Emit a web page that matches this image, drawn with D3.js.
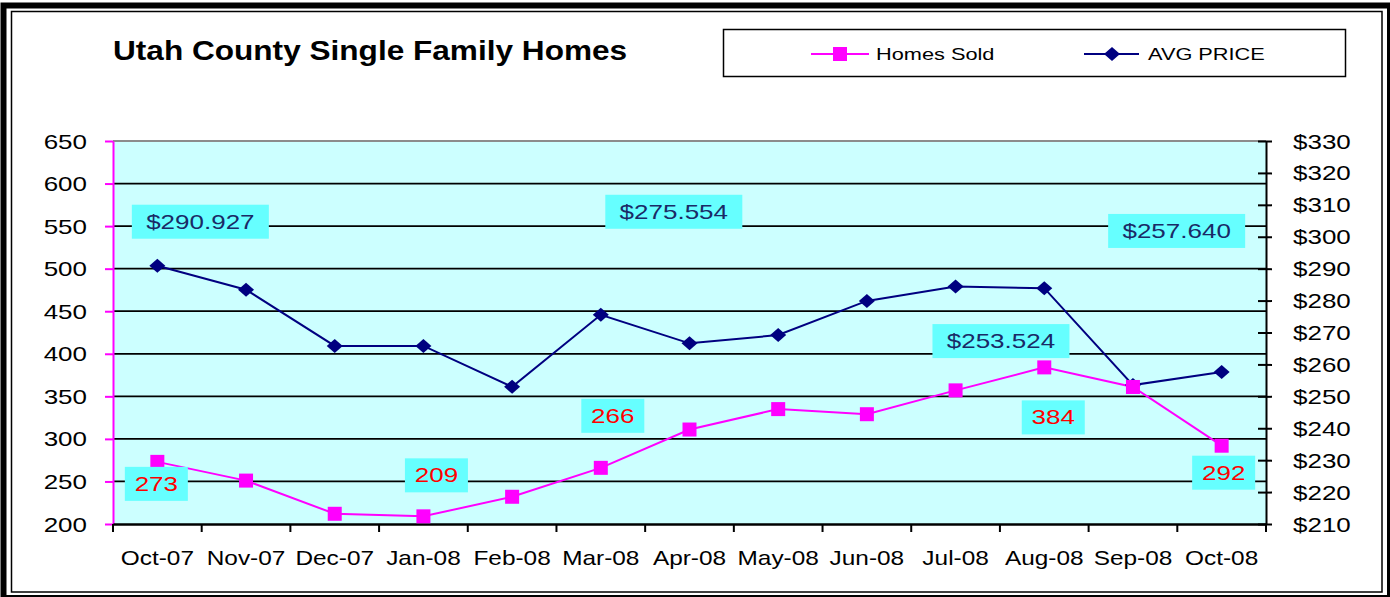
<!DOCTYPE html>
<html>
<head>
<meta charset="utf-8">
<script src="https://cdn.jsdelivr.net/npm/d3@7"></script>
<style>
  body { margin: 0; background: #fff; }
  svg { display: block; font-family: Arial, "Liberation Sans", sans-serif; }
</style>
</head>
<body>
<svg width="1390" height="597"></svg>
<script>
// data
const months = ["Oct-07", "Nov-07", "Dec-07", "Jan-08", "Feb-08", "Mar-08", "Apr-08",
  "May-08", "Jun-08", "Jul-08", "Aug-08", "Sep-08", "Oct-08"];
const homesSold = [273, 251, 212, 209, 232, 266, 311, 335, 329, 357, 384, 361, 292];
const avgPrice = [290.927, 283.4, 265.8, 265.8, 253.0, 275.554, 266.6, 269.2, 279.9, 284.4, 283.9, 253.524, 257.640];
const leftTicks = [200, 250, 300, 350, 400, 450, 500, 550, 600, 650];
const rightTicks = [210, 220, 230, 240, 250, 260, 270, 280, 290, 300, 310, 320, 330];

// labelled points: index into the series + label text
const priceLabels = [
  { i: 0, text: "$290.927", dx: 43, dy: -44 },
  { i: 5, text: "$275.554", dx: 73, dy: -103 },
  { i: 11, text: "$253.524", dx: -132, dy: -44 },
  { i: 12, text: "$257.640", dx: -45, dy: -141 }
];
const soldLabels = [
  { i: 0, text: "273", dx: -1, dy: 22 },
  { i: 3, text: "209", dx: 13, dy: -41 },
  { i: 5, text: "266", dx: 12, dy: -52 },
  { i: 10, text: "384", dx: 9, dy: 50 },
  { i: 12, text: "292", dx: 2, dy: 27 }
];

const SX = 1.3; // the picture is stretched sideways, so is its text
const plot = { left: 113, right: 1266, top: 141, bottom: 524 };

const svg = d3.select("svg");

// outer double frame
svg.append("rect").attr("x", 3.5).attr("y", 5.5).attr("width", 1386.5).attr("height", 592.5)
  .attr("fill", "none").attr("stroke", "#000").attr("stroke-width", 6);
svg.append("rect").attr("x", 11.5).attr("y", 11.5).attr("width", 1370.5).attr("height", 580.5)
  .attr("fill", "none").attr("stroke", "#000").attr("stroke-width", 1.5);

// scales
const x = d3.scaleBand().domain(months).range([plot.left, plot.right]);
const yL = d3.scaleLinear().domain([200, 650]).range([plot.bottom, plot.top]);
const yR = d3.scaleLinear().domain([210, 330]).range([plot.bottom, plot.top]);
const cx = d => x(d) + x.bandwidth() / 2;

// plot background
svg.append("rect")
  .attr("x", plot.left).attr("y", plot.top)
  .attr("width", plot.right - plot.left).attr("height", plot.bottom - plot.top)
  .attr("fill", "#CCFFFF");

// gridlines
svg.append("g").selectAll("line")
  .data(leftTicks.filter(t => t > 200 && t < 650))
  .join("line")
  .attr("x1", plot.left).attr("x2", plot.right)
  .attr("y1", d => yL(d)).attr("y2", d => yL(d))
  .attr("stroke", "#000").attr("stroke-width", 1.8);
svg.append("line")
  .attr("x1", plot.left).attr("x2", plot.right)
  .attr("y1", plot.top).attr("y2", plot.top)
  .attr("stroke", "#8c8c8c").attr("stroke-width", 2);

function stretchText(sel, dx, dy, anchor, sx = SX) {
  sel.attr("x", 0).attr("y", 0).attr("dy", null)
    .attr("text-anchor", anchor)
    .attr("transform", `translate(${dx},${dy}) scale(${sx},1)`)
    .attr("font-size", 20).attr("font-family", "Arial, 'Liberation Sans', sans-serif")
    .attr("fill", "#000");
}

// left axis (magenta)
const gL = svg.append("g").attr("transform", `translate(${plot.left},0)`)
  .call(d3.axisLeft(yL).tickValues(leftTicks).tickSize(8).tickSizeOuter(0));
gL.select(".domain").attr("stroke", "#FF00FF").attr("stroke-width", 2);
gL.selectAll(".tick line").attr("stroke", "#FF00FF").attr("stroke-width", 2);
gL.selectAll(".tick text").call(stretchText, -26, 7, "end");

// right axis
const gR = svg.append("g").attr("transform", `translate(${plot.right},0)`)
  .call(d3.axisRight(yR).tickValues(rightTicks).tickFormat(d => "$" + d).tickSize(6).tickSizeOuter(0));
gR.select(".domain").attr("stroke", "#000").attr("stroke-width", 2);
gR.selectAll(".tick line").attr("x1", -8).attr("stroke", "#000").attr("stroke-width", 2);
gR.selectAll(".tick text").call(stretchText, 27, 7, "start");

// bottom axis: ticks sit on the band edges
const gB = svg.append("g").attr("transform", `translate(0,${plot.bottom})`)
  .call(d3.axisBottom(x).tickSize(0).tickSizeOuter(0));
gB.select(".domain").attr("stroke", "#000").attr("stroke-width", 2.5);
gB.selectAll(".tick text").call(stretchText, 0, 41, "middle", 1.22);
gB.append("g").selectAll("line")
  .data(months.concat(["end"]))
  .join("line")
  .attr("x1", (d, i) => i < months.length ? x(d) : plot.right)
  .attr("x2", (d, i) => i < months.length ? x(d) : plot.right)
  .attr("y1", 0).attr("y2", 8)
  .attr("stroke", "#000").attr("stroke-width", 2);

// lines
const priceLine = d3.line().x((d, i) => cx(months[i])).y(d => yR(d));
const soldLine = d3.line().x((d, i) => cx(months[i])).y(d => yL(d));

svg.append("path").datum(avgPrice).attr("d", priceLine)
  .attr("fill", "none").attr("stroke", "#000080").attr("stroke-width", 2);
svg.append("path").datum(homesSold).attr("d", soldLine)
  .attr("fill", "none").attr("stroke", "#FF00FF").attr("stroke-width", 2);

const diamond = "M0,-7L8,0L0,7L-8,0Z";

svg.append("g").selectAll("path")
  .data(avgPrice)
  .join("path")
  .attr("d", diamond)
  .attr("transform", (d, i) => `translate(${cx(months[i])},${yR(d)})`)
  .attr("fill", "#000080");

svg.append("g").selectAll("rect")
  .data(homesSold)
  .join("rect")
  .attr("x", (d, i) => cx(months[i]) - 7)
  .attr("y", d => yL(d) - 7)
  .attr("width", 14).attr("height", 14)
  .attr("fill", "#FF00FF");

// data labels
function drawLabels(list, series, scale, w, color) {
  const g = svg.append("g").selectAll("g")
    .data(list)
    .join("g")
    .attr("transform", d => `translate(${cx(months[d.i]) + d.dx},${scale(series[d.i]) + d.dy})`);
  g.append("rect")
    .attr("x", -w / 2).attr("y", -17)
    .attr("width", w).attr("height", 34)
    .attr("fill", "#66FFFF");
  g.append("text")
    .text(d => d.text)
    .call(stretchText, 0, 7, "middle");
  g.selectAll("text").attr("fill", color);
}
drawLabels(priceLabels, avgPrice, yR, 137, "#1A2A66");
drawLabels(soldLabels, homesSold, yL, 63, "#FF0000");

// title
svg.append("text")
  .attr("transform", `translate(113,60) scale(1.17,1)`)
  .attr("font-size", 27).attr("font-weight", "bold")
  .text("Utah County Single Family Homes");

// legend
const lg = svg.append("g");
lg.append("rect").attr("x", 723.5).attr("y", 29.5).attr("width", 622).attr("height", 47)
  .attr("fill", "#fff").attr("stroke", "#000").attr("stroke-width", 1.5);
lg.append("line").attr("x1", 811).attr("x2", 869).attr("y1", 54).attr("y2", 54)
  .attr("stroke", "#FF00FF").attr("stroke-width", 2);
lg.append("rect").attr("x", 833).attr("y", 47).attr("width", 14).attr("height", 14).attr("fill", "#FF00FF");
lg.append("text").attr("transform", `translate(876,60) scale(1.28,1)`)
  .attr("font-size", 17).text("Homes Sold");
lg.append("line").attr("x1", 1084).attr("x2", 1139).attr("y1", 54).attr("y2", 54)
  .attr("stroke", "#000080").attr("stroke-width", 2);
lg.append("path").attr("d", diamond).attr("transform", "translate(1112,54)").attr("fill", "#000080");
lg.append("text").attr("transform", `translate(1148,60) scale(1.28,1)`)
  .attr("font-size", 17).text("AVG PRICE");
</script>
</body>
</html>
